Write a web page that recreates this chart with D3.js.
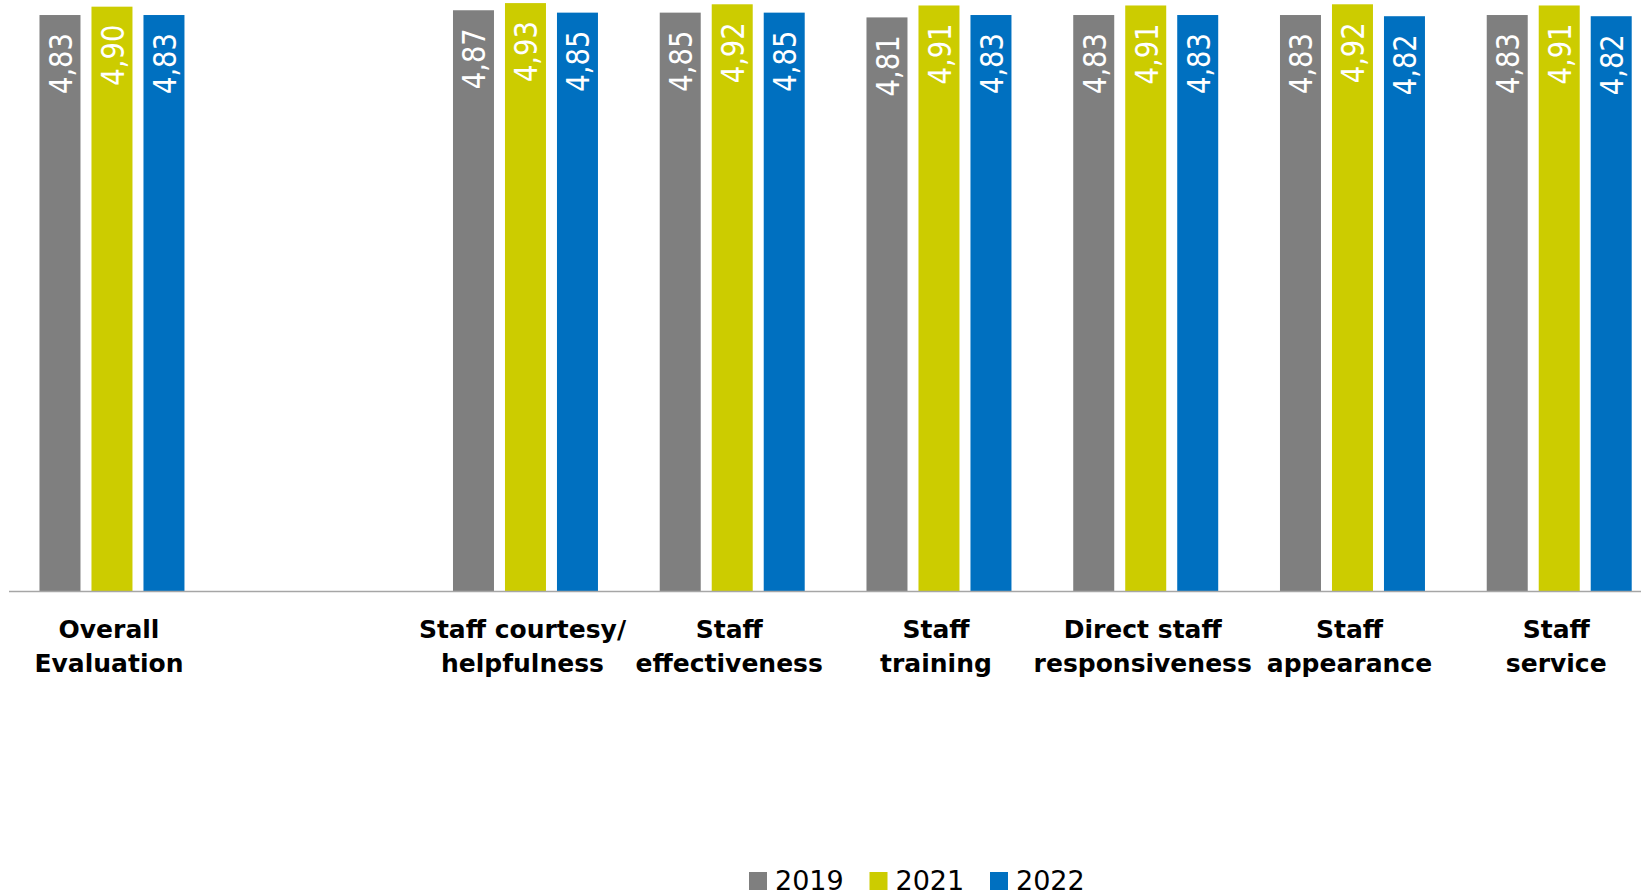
<!DOCTYPE html>
<html>
<head>
<meta charset="utf-8">
<script src="https://cdn.jsdelivr.net/npm/d3@7"></script>
<style>
	body { margin: 0; background: #fff; }
	svg { display: block; }
</style>
</head>
<body>
<div class="content"></div>
<script>
(function() {
	// categories, "" is the empty slot after the overall score
	var categories = ["Overall\nEvaluation", "", "Staff courtesy/\nhelpfulness", "Staff\neffectiveness",
		"Staff\ntraining", "Direct staff\nresponsiveness", "Staff\nappearance", "Staff\nservice"];
	var years = ["2019", "2021", "2022"];
	var values2019 = [4.83, null, 4.87, 4.85, 4.81, 4.83, 4.83, 4.83];
	var values2021 = [4.90, null, 4.93, 4.92, 4.91, 4.91, 4.92, 4.91];
	var values2022 = [4.83, null, 4.85, 4.85, 4.83, 4.83, 4.82, 4.82];
	var colors = ["#7f7f7f", "#cccc00", "#0070c0"];

	var width = 1641, height = 895;
	var baseline = 591;

	var svg = d3.select(".content")
		.append("svg")
		.attr("width", width)
		.attr("height", height);

	var x = d3.scaleBand()
		.domain(categories)
		.range([8.6, 1662.6])
		.padding(0);

	var xs = d3.scaleBand()
		.domain(years)
		.range([0, x.bandwidth()])
		.paddingInner(11 / 52)
		.paddingOuter(0.594);

	var y = d3.scaleLinear()
		.domain([0, 5])
		.range([baseline, baseline - 5 * 119.25]);

	var color = d3.scaleOrdinal().domain(years).range(colors);

	var fmt = d3.formatLocale({ decimal: ",", thousands: ".", grouping: [3], currency: ["", ""] }).format(".2f");

	var rows = [];
	var series = [values2019, values2021, values2022];
	categories.forEach(function(c, i) {
		years.forEach(function(yr, j) {
			if (series[j][i] != null) {
				rows.push({ cat: c, year: yr, value: series[j][i] });
			}
		});
	});

	var bars = svg.append("g");

	bars.selectAll("rect")
		.data(rows)
		.enter().append("rect")
		.attr("x", function(d) { return x(d.cat) + xs(d.year); })
		.attr("y", function(d) { return y(d.value); })
		.attr("width", xs.bandwidth())
		.attr("height", function(d) { return baseline - y(d.value); })
		.attr("fill", function(d) { return color(d.year); });

	// value labels, rotated, inside the top of each bar
	bars.selectAll("text")
		.data(rows)
		.enter().append("text")
		.attr("transform", function(d) {
			var cx = x(d.cat) + xs(d.year) + xs.bandwidth() / 2 + 12;
			return "translate(" + cx + "," + (y(d.value) + 18) + ") rotate(-90)";
		})
		.attr("text-anchor", "end")
		.attr("font-family", "DejaVu Sans, sans-serif")
		.attr("font-size", 32)
		.attr("textLength", 61)
		.attr("lengthAdjust", "spacingAndGlyphs")
		.attr("fill", "#fff")
		.text(function(d) { return fmt(d.value); });

	// axis line
	svg.append("line")
		.attr("x1", 9)
		.attr("x2", width)
		.attr("y1", baseline + 0.5)
		.attr("y2", baseline + 0.5)
		.attr("stroke", "#a6a6a6")
		.attr("stroke-width", 1.5);

	// category labels
	var labels = svg.append("g")
		.selectAll("text")
		.data(categories.filter(function(c) { return c !== ""; }))
		.enter().append("text")
		.attr("text-anchor", "middle")
		.attr("font-family", "DejaVu Sans, sans-serif")
		.attr("font-weight", "bold")
		.attr("font-size", 25)
		.attr("fill", "#000");

	labels.selectAll("tspan")
		.data(function(c) {
			return c.split("\n").map(function(t) { return { text: t, cat: c }; });
		})
		.enter().append("tspan")
		.attr("x", function(d) { return x(d.cat) + x.bandwidth() / 2 - 3; })
		.attr("y", function(d, i) { return 638 + i * 33.5; })
		.text(function(d) { return d.text; });

	// legend
	var legend = svg.append("g")
		.selectAll("g")
		.data(years)
		.enter().append("g")
		.attr("transform", function(d, i) { return "translate(" + (749 + i * 120.5) + ",0)"; });

	legend.append("rect")
		.attr("x", 0)
		.attr("y", 872)
		.attr("width", 18)
		.attr("height", 18)
		.attr("fill", function(d) { return color(d); });

	legend.append("text")
		.attr("x", 26)
		.attr("y", 890)
		.attr("font-family", "DejaVu Sans, sans-serif")
		.attr("font-size", 27)
		.attr("fill", "#000")
		.text(function(d) { return d; });
}());
</script>
</body>
</html>
